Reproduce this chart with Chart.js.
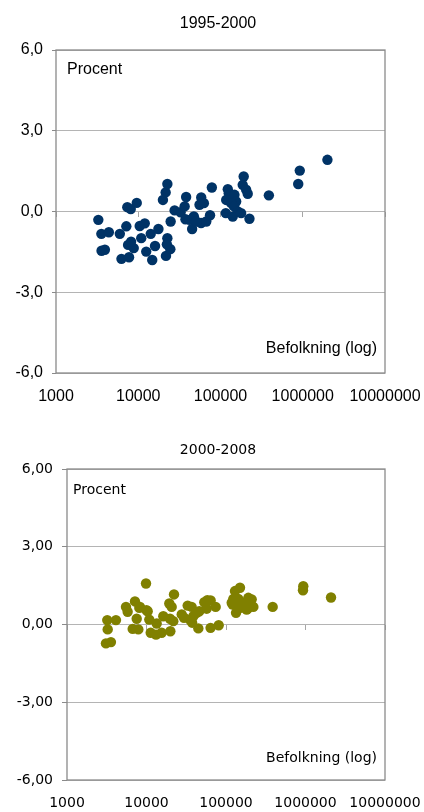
<!DOCTYPE html>
<html><head><meta charset="utf-8">
<script src="https://cdn.jsdelivr.net/npm/chart.js@4/dist/chart.umd.min.js"></script>
<style>
html,body{margin:0;padding:0;background:#fff;width:424px;height:812px;overflow:hidden}
.box{position:absolute;left:0;width:424px}
canvas{display:block}
</style></head><body>
<div class="box" style="top:0;height:410px"><canvas id="c1" width="424" height="410"></canvas></div>
<div class="box" style="top:410px;height:402px"><canvas id="c2" width="424" height="402"></canvas></div>
<script>
// ---- data ----
const xTicks = [1000, 10000, 100000, 1000000, 10000000];
const yTicks = [-6, -3, 0, 3, 6];
const title1 = '1995-2000';
const title2 = '2000-2008';
const yLabelText = 'Procent';
const xLabelText = 'Befolkning (log)';

const pop1995 = [3270,3560,4390,5970,7160,7360,8110,9590,10420,12000,10870,14190,17580,19950,21530,22590,24770,22590,27670,32740,36640,38200,37500,42070,47400,45200,55600,58300,62800,58000,67100,74600,78500,50700,122700,126000,147800,117300,154900,134900,146000,116000,162200,140900,178200,224900,191400,186200,205000,214300,387300,881000,920000,1995000,3580,3930,6250,7730,7520,8810,8180,12500,14790,16000,21730,24550,22300];
const growth1995 = [-0.31,-0.83,-0.77,-0.83,-0.55,0.16,0.09,0.32,-0.54,-0.44,-0.99,-0.83,-0.65,0.43,0.71,1.02,-0.37,-0.99,0.04,-0.03,0.19,0.54,-0.29,-0.31,-0.18,-0.65,0.25,0.52,0.31,-0.43,-0.37,-0.14,0.89,-0.37,0.83,0.68,0.62,0.43,0.37,0.31,0.19,-0.06,0.0,-0.19,-0.06,-0.27,1.30,0.99,0.81,0.66,0.60,1.02,1.52,1.92,-1.46,-1.42,-1.76,-1.70,-1.24,-1.36,-1.12,-1.49,-1.80,-1.28,-1.65,-1.40,-1.22];

const pop2000 = [3210,4130,3250,3090,3570,5520,5790,7160,8130,7530,6700,7890,9860,10350,10840,11300,13180,15490,13430,16260,19360,20750,22180,19770,21730,19950,27730,29650,32960,36980,35240,38810,37500,42760,46130,44870,53330,58210,64120,57150,74130,64000,80910,121300,129700,150000,123600,142900,133700,153100,173400,191000,210400,220800,187500,386400,937600,930000,2094000,8280,10000,118000,136100,182000,212000];
const growth2000 = [0.17,0.17,-0.19,-0.73,-0.68,0.68,0.49,0.89,0.64,0.22,-0.17,-0.19,1.58,0.51,0.19,-0.32,-0.39,-0.32,0.04,0.32,0.81,0.68,1.16,0.22,0.13,-0.26,0.39,0.26,0.73,0.68,0.19,0.32,0.07,0.45,0.51,-0.15,0.86,0.94,0.93,0.61,0.68,-0.13,-0.03,0.77,1.29,1.42,0.99,0.99,0.45,0.64,0.84,1.03,0.97,0.68,0.61,0.68,1.48,1.32,1.04,0.68,0.55,0.84,0.71,0.58,0.71];

// ---- chart builder ----
function setDecades(scale){ scale.ticks = xTicks.map(v => ({value: v})); }

function makeChart(id, s){
  const points = s.xs.map((x, i) => ({x: x, y: s.ys[i]}));
  const fontObj = {family: s.family, size: s.size, weight: 'normal'};
  const decorPlugin = {
    id: 'decor',
    beforeDatasetsDraw(chart){
      const a = chart.chartArea, c = chart.ctx;
      c.save();
      c.strokeStyle = '#8a8a8a';
      c.lineWidth = 1.3;
      c.strokeRect(a.left, a.top, a.right - a.left, a.bottom - a.top);
      c.restore();
    },
    afterDraw(chart){
      const a = chart.chartArea, c = chart.ctx;
      c.save();
      c.fillStyle = '#000';
      c.font = s.size + 'px ' + s.family;
      c.textBaseline = 'middle';
      c.textAlign = 'center';
      c.fillText(s.title, chart.width / 2 + 6, s.titleY);
      c.textAlign = 'left';
      c.fillText(yLabelText, a.left + s.pLeft, a.top + s.pTop);
      c.textAlign = 'right';
      c.fillText(xLabelText, a.right - 8, a.bottom - s.bBottom);
      c.restore();
    }
  };
  return new Chart(document.getElementById(id), {
    type: 'scatter',
    data: {datasets: [{
      label: s.title,
      data: points,
      backgroundColor: s.color,
      borderColor: s.color,
      borderWidth: 0,
      pointRadius: 5.2,
      pointHoverRadius: 5.2
    }]},
    options: {
      responsive: false,
      animation: false,
      events: [],
      layout: {padding: {left: 0, right: 39, top: s.padTop, bottom: 0}},
      plugins: {
        legend: {display: false},
        tooltip: {enabled: false},
        title: {display: false, text: s.title}
      },
      scales: {
        x: {
          type: 'logarithmic', position: 'bottom', min: 1000, max: 10000000,
          afterBuildTicks: setDecades,
          afterFit: sc => { sc.height = s.xHeight; sc.paddingLeft = 0; sc.paddingRight = 0; },
          grid: {display: false, drawTicks: false, tickLength: 0},
          border: {display: false},
          ticks: {color: '#000', font: fontObj, padding: s.xPad, autoSkip: false, maxRotation: 0,
                  callback: v => String(v)}
        },
        x0: {
          type: 'logarithmic', position: {y: 0}, min: 1000, max: 10000000,
          afterBuildTicks: setDecades,
          grid: {display: true, drawOnChartArea: false, drawTicks: true, tickLength: 5, tickColor: '#a6a6a6', color: '#a6a6a6'},
          border: {display: false},
          ticks: {display: false}
        },
        y: {
          min: -6, max: 6,
          afterBuildTicks: sc => { sc.ticks = yTicks.map(v => ({value: v})); },
          afterFit: sc => { sc.width = s.yWidth; },
          grid: {color: '#b4b4b4', tickColor: '#8a8a8a', tickLength: s.yTick, lineWidth: 1},
          border: {display: false},
          ticks: {color: '#000', font: fontObj, padding: 9, callback: v => v.toFixed(s.dec).replace('.', ',')}
        }
      }
    },
    plugins: [decorPlugin]
  });
}

makeChart('c1', {
  xs: pop1995, ys: growth1995, title: title1, color: '#003366',
  family: '"Liberation Sans", Arial, sans-serif', size: 16,
  padTop: 50, titleY: 24, xHeight: 37, xPad: 14.4, yWidth: 56, yTick: 4, dec: 1,
  pLeft: 11, pTop: 20, bBottom: 24
});
makeChart('c2', {
  xs: pop2000, ys: growth2000, title: title2, color: '#808000',
  family: '"DejaVu Sans", Verdana, sans-serif', size: 14,
  padTop: 59, titleY: 40, xHeight: 32, xPad: 14.6, yWidth: 67, yTick: 5, dec: 2,
  pLeft: 6, pTop: 21, bBottom: 22
});
</script>
</body></html>
